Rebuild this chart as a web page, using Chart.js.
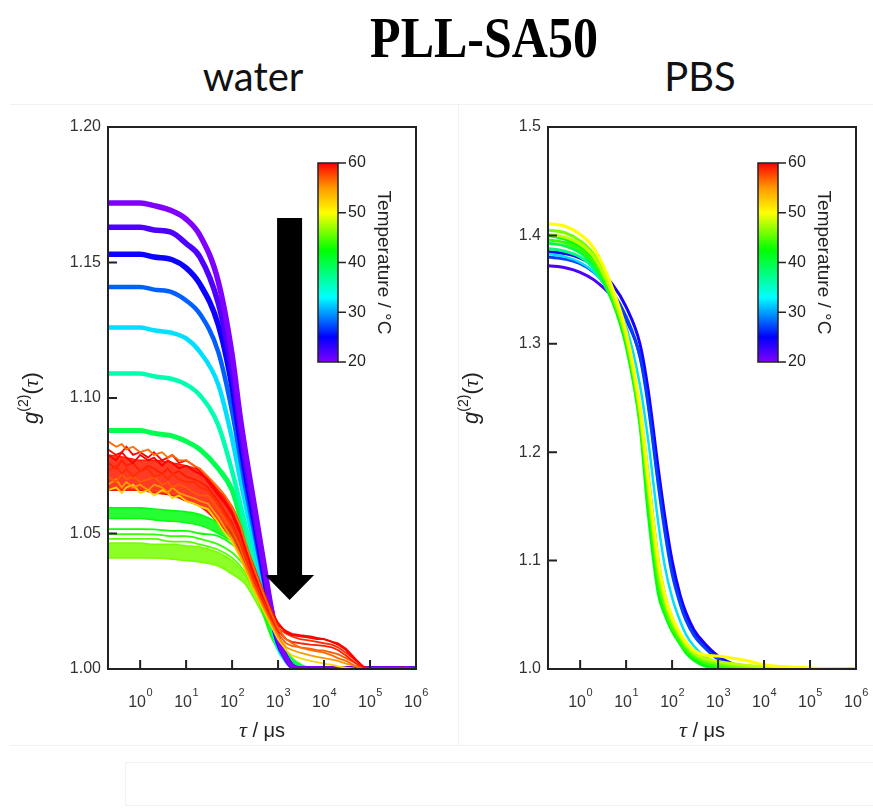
<!DOCTYPE html>
<html>
<head>
<meta charset="utf-8">
<title>PLL-SA50</title>
<script src="https://cdn.jsdelivr.net/npm/chart.js@4.4.1/dist/chart.umd.min.js"></script>
<style>
  body { margin: 0; background: #fff; }
  #page { position: relative; width: 873px; height: 809px; overflow: hidden; background: #fff; }
  .txt { position: absolute; text-align: center; white-space: nowrap; color: #000; }
  #title { left: 284px; width: 400px; top: 15px; font: bold 50px/50px "Liberation Serif", "Times New Roman", serif; transform: scaleY(1.12); transform-origin: 50% 42px; }
  .solvent { width: 200px; top: 56px; font: 40px/40px Lato, "Open Sans", sans-serif; color: #111; }
  .rule { position: absolute; background: #f1f1f1; }
  canvas { position: absolute; top: 100px; }
</style>
</head>
<body>
<div id="page">
  <div class="rule" style="left:10px;top:104px;width:863px;height:1px"></div>
  <div class="rule" style="left:10px;top:745px;width:863px;height:1px"></div>
  <div class="rule" style="left:458px;top:104px;width:1px;height:641px"></div>
  <div class="rule" style="left:125px;top:762px;width:748px;height:1px"></div>
  <div class="rule" style="left:125px;top:762px;width:1px;height:44px"></div>
  <div class="rule" style="left:125px;top:805px;width:748px;height:1px"></div>

  <div id="title" class="txt">PLL-SA50</div>
  <div class="txt solvent" style="left:153px">water</div>
  <div class="txt solvent" style="left:600px">PBS</div>

  <canvas id="waterChart" width="440" height="660" style="left:0"></canvas>
  <canvas id="pbsChart" width="433" height="660" style="left:440px"></canvas>
</div>

<script>
// ---- values (tau in µs, g2 values) ----
const xTickValues = [1, 10, 100, 1000, 1e4, 1e5, 1e6];
const tempTicks = [20, 30, 40, 50, 60];

// water panel, smooth curves
const tauWater = [0.2, 0.5, 1, 2, 5, 10, 20, 50, 100, 150, 200, 300, 500, 700, 1000, 1500, 2000, 3000, 5000, 1e4, 2e4, 5e4, 1e5, 1e6];
const water20 = [1.172, 1.172, 1.172, 1.171, 1.169, 1.166, 1.160, 1.143, 1.116, 1.093, 1.079, 1.061, 1.038, 1.023, 1.011, 1.004, 1.001, 1.000, 1.000, 1.000, 1.000, 1.000, 1.000, 1.000];
const water22 = [1.163, 1.163, 1.163, 1.162, 1.161, 1.157, 1.152, 1.135, 1.110, 1.089, 1.075, 1.058, 1.036, 1.022, 1.011, 1.004, 1.001, 1.000, 1.000, 1.000, 1.000, 1.000, 1.000, 1.000];
const water24 = [1.153, 1.153, 1.153, 1.152, 1.151, 1.148, 1.142, 1.127, 1.104, 1.084, 1.071, 1.055, 1.034, 1.021, 1.010, 1.004, 1.001, 1.000, 1.000, 1.000, 1.000, 1.000, 1.000, 1.000];
const water28 = [1.141, 1.141, 1.141, 1.140, 1.139, 1.136, 1.131, 1.117, 1.095, 1.078, 1.066, 1.051, 1.032, 1.020, 1.010, 1.004, 1.001, 1.000, 1.000, 1.000, 1.000, 1.000, 1.000, 1.000];
const water32 = [1.126, 1.126, 1.126, 1.125, 1.124, 1.122, 1.117, 1.105, 1.085, 1.070, 1.060, 1.046, 1.029, 1.018, 1.009, 1.003, 1.001, 1.000, 1.000, 1.000, 1.000, 1.000, 1.000, 1.000];
const water36 = [1.109, 1.109, 1.109, 1.108, 1.107, 1.105, 1.101, 1.090, 1.073, 1.061, 1.052, 1.040, 1.026, 1.017, 1.008, 1.003, 1.001, 1.000, 1.000, 1.000, 1.000, 1.000, 1.000, 1.000];
const water39 = [1.088, 1.088, 1.088, 1.087, 1.086, 1.084, 1.081, 1.074, 1.066, 1.056, 1.048, 1.036, 1.024, 1.017, 1.011, 1.006, 1.003, 1.001, 1.000, 1.000, 1.000, 1.000, 1.000, 1.000];
const water42Top = [1.0595, 1.0595, 1.0595, 1.059, 1.0585, 1.058, 1.057, 1.054, 1.051, 1.047, 1.043, 1.034, 1.021, 1.014, 1.009, 1.005, 1.003, 1.001, 1.000, 1.000, 1.000, 1.000, 1.000, 1.000];
const water42Bottom = [1.0555, 1.0555, 1.0555, 1.055, 1.0545, 1.054, 1.053, 1.050, 1.047, 1.044, 1.040, 1.031, 1.019, 1.012, 1.007, 1.003, 1.001, 1.000, 1.000, 1.000, 1.000, 1.000, 1.000, 1.000];
const water43 = [1.0516, 1.0516, 1.0516, 1.0515, 1.051, 1.051, 1.050, 1.049, 1.046, 1.043, 1.039, 1.031, 1.020, 1.013, 1.008, 1.004, 1.002, 1.001, 1.000, 1.000, 1.000, 1.000, 1.000, 1.000];
const water44 = [1.0498, 1.0498, 1.0498, 1.0497, 1.049, 1.049, 1.048, 1.046, 1.043, 1.040, 1.037, 1.030, 1.020, 1.013, 1.008, 1.004, 1.002, 1.001, 1.000, 1.000, 1.000, 1.000, 1.000, 1.000];
const water45 = [1.048, 1.048, 1.048, 1.048, 1.047, 1.047, 1.046, 1.044, 1.041, 1.038, 1.035, 1.029, 1.020, 1.013, 1.008, 1.004, 1.002, 1.001, 1.000, 1.000, 1.000, 1.000, 1.000, 1.000];
const water46Top = [1.0465, 1.0465, 1.0465, 1.046, 1.046, 1.0455, 1.045, 1.043, 1.040, 1.037, 1.034, 1.029, 1.021, 1.015, 1.010, 1.006, 1.004, 1.002, 1.000, 1.000, 1.000, 1.000, 1.000, 1.000];
const water46Bottom = [1.041, 1.041, 1.041, 1.041, 1.0405, 1.040, 1.0395, 1.038, 1.035, 1.033, 1.031, 1.026, 1.019, 1.013, 1.008, 1.004, 1.002, 1.001, 1.000, 1.000, 1.000, 1.000, 1.000, 1.000];

// water panel, noisy high-temperature curves
const tauRed = [0.2, 0.3, 0.4, 0.5, 0.7, 1, 1.5, 2, 3, 4, 5, 7, 10, 15, 20, 30, 50, 70, 100, 150, 200, 300, 500, 700, 1000, 1500, 2000, 3000, 5000, 7000, 1e4, 1.5e4, 2e4, 3e4, 5e4, 7e4, 1e5, 2e5, 5e5, 1e6];
const red56a = [1.084, 1.082, 1.083, 1.081, 1.082, 1.080, 1.081, 1.079, 1.080, 1.078, 1.079, 1.077, 1.077, 1.075, 1.074,
  1.071, 1.067, 1.064, 1.060, 1.053, 1.046, 1.037, 1.027, 1.021, 1.015,
  1.011, 1.0095, 1.008, 1.007, 1.0065, 1.006, 1.005, 1.004, 1.003, 1.001, 1.000, 1.000, 1.000, 1.000, 1.000];
const red60a = [1.079, 1.077, 1.080, 1.078, 1.076, 1.079, 1.077, 1.078, 1.075, 1.077, 1.076, 1.074, 1.075, 1.073, 1.072,
  1.070, 1.065, 1.062, 1.058, 1.051, 1.044, 1.036, 1.027, 1.022, 1.017,
  1.0135, 1.0125, 1.012, 1.0115, 1.011, 1.011, 1.010, 1.009, 1.007, 1.003, 1.001, 1.000, 1.0005, 1.000, 1.000];
const red60b = [1.081, 1.079, 1.080, 1.082, 1.079, 1.080, 1.078, 1.080, 1.077, 1.078, 1.079, 1.076, 1.077, 1.075, 1.073,
  1.069, 1.064, 1.061, 1.057, 1.050, 1.044, 1.035, 1.026, 1.021, 1.016,
  1.014, 1.013, 1.0125, 1.012, 1.0115, 1.011, 1.010, 1.0095, 1.0075, 1.0035, 1.001, 1.000, 1.000, 1.0005, 1.000];
const red58 = [1.073, 1.075, 1.072, 1.074, 1.071, 1.073, 1.074, 1.071, 1.072, 1.070, 1.072, 1.070, 1.069, 1.069, 1.067,
  1.066, 1.061, 1.057, 1.053, 1.047, 1.041, 1.033, 1.025, 1.020, 1.015,
  1.013, 1.012, 1.011, 1.0105, 1.010, 1.0095, 1.009, 1.008, 1.006, 1.003, 1.0005, 1.000, 1.000, 1.0005, 1.000];
const red59 = [1.076, 1.074, 1.077, 1.075, 1.076, 1.073, 1.075, 1.074, 1.072, 1.074, 1.072, 1.073, 1.071, 1.070, 1.069,
  1.067, 1.062, 1.058, 1.054, 1.047, 1.041, 1.033, 1.024, 1.019, 1.014,
  1.011, 1.010, 1.0095, 1.009, 1.0088, 1.0085, 1.008, 1.007, 1.005, 1.002, 1.000, 1.000, 1.0003, 1.000, 1.000];
const red57 = [1.071, 1.069, 1.072, 1.070, 1.071, 1.069, 1.070, 1.071, 1.068, 1.069, 1.067, 1.068, 1.067, 1.065, 1.064,
  1.064, 1.059, 1.055, 1.051, 1.045, 1.039, 1.031, 1.023, 1.018, 1.013,
  1.0095, 1.0085, 1.008, 1.0075, 1.007, 1.0068, 1.006, 1.0055, 1.004, 1.002, 1.0005, 1.000, 1.000, 1.000, 1.000];
const red55 = [1.068, 1.070, 1.067, 1.069, 1.067, 1.068, 1.066, 1.068, 1.067, 1.065, 1.067, 1.065, 1.064, 1.063, 1.062,
  1.061, 1.056, 1.052, 1.048, 1.042, 1.037, 1.030, 1.022, 1.017, 1.012,
  1.008, 1.007, 1.006, 1.005, 1.0045, 1.004, 1.0035, 1.003, 1.002, 1.001, 1.000, 1.000, 1.000, 1.000, 1.000];
const red52 = [1.066, 1.067, 1.065, 1.067, 1.068, 1.065, 1.066, 1.064, 1.066, 1.065, 1.063, 1.064, 1.062, 1.061, 1.060,
  1.059, 1.054, 1.050, 1.047, 1.041, 1.036, 1.029, 1.021, 1.016, 1.011,
  1.007, 1.005, 1.004, 1.003, 1.0025, 1.002, 1.0015, 1.001, 1.0005, 1.000, 1.000, 1.000, 1.000, 1.000, 1.000];
// envelope of the dense red bundle
const tauBand = [0.2, 0.5, 1, 2, 5, 10, 20, 50, 100, 150, 200, 300, 500, 700];
const redBandTop = [1.079, 1.078, 1.077, 1.077, 1.076, 1.075, 1.073, 1.066, 1.060, 1.053, 1.046, 1.038, 1.028, 1.022];
const redBandBottom = [1.066, 1.066, 1.066, 1.065, 1.064, 1.062, 1.060, 1.054, 1.048, 1.042, 1.036, 1.030, 1.022, 1.018];

// PBS panel
const tauPbs = [0.2, 0.5, 1, 2, 5, 10, 20, 30, 50, 70, 100, 150, 200, 300, 500, 1000, 2000, 5000, 1e4, 1e5, 1e6];
const pbs22 = [1.372, 1.370, 1.366, 1.359, 1.343, 1.322, 1.289, 1.248, 1.176, 1.132, 1.094, 1.064, 1.049, 1.034, 1.022, 1.011, 1.005, 1.001, 1.000, 1.000, 1.000];
const pbs24 = [1.385, 1.383, 1.379, 1.372, 1.355, 1.334, 1.300, 1.258, 1.185, 1.140, 1.100, 1.068, 1.052, 1.036, 1.024, 1.012, 1.005, 1.001, 1.000, 1.000, 1.000];
const pbs27 = [1.380, 1.378, 1.374, 1.366, 1.348, 1.325, 1.288, 1.244, 1.170, 1.126, 1.088, 1.060, 1.045, 1.031, 1.020, 1.009, 1.004, 1.001, 1.000, 1.000, 1.000];
const pbs32 = [1.383, 1.380, 1.375, 1.366, 1.344, 1.316, 1.262, 1.212, 1.135, 1.094, 1.066, 1.044, 1.032, 1.021, 1.012, 1.005, 1.002, 1.000, 1.000, 1.000, 1.000];
const pbs38 = [1.388, 1.385, 1.380, 1.369, 1.340, 1.304, 1.240, 1.180, 1.100, 1.068, 1.047, 1.031, 1.022, 1.013, 1.007, 1.003, 1.001, 1.000, 1.000, 1.000, 1.000];
const pbs40 = [1.393, 1.390, 1.384, 1.372, 1.340, 1.302, 1.232, 1.165, 1.085, 1.058, 1.040, 1.026, 1.018, 1.010, 1.004, 1.001, 1.000, 1.000, 1.000, 1.000, 1.000];
const pbs42 = [1.400, 1.396, 1.389, 1.376, 1.340, 1.298, 1.225, 1.145, 1.070, 1.050, 1.035, 1.023, 1.015, 1.008, 1.003, 1.001, 1.000, 1.000, 1.000, 1.000, 1.000];
const pbs44 = [1.396, 1.393, 1.387, 1.375, 1.342, 1.303, 1.230, 1.160, 1.080, 1.055, 1.038, 1.025, 1.018, 1.011, 1.006, 1.003, 1.002, 1.001, 1.000, 1.000, 1.000];
const pbs46 = [1.405, 1.402, 1.395, 1.382, 1.347, 1.306, 1.236, 1.168, 1.088, 1.060, 1.042, 1.029, 1.021, 1.013, 1.008, 1.005, 1.003, 1.002, 1.001, 1.000, 1.000];
const pbs48 = [1.401, 1.398, 1.392, 1.380, 1.346, 1.307, 1.238, 1.172, 1.094, 1.064, 1.045, 1.031, 1.023, 1.015, 1.010, 1.007, 1.005, 1.003, 1.002, 1.000, 1.000];
const pbs50 = [1.411, 1.408, 1.401, 1.388, 1.352, 1.311, 1.242, 1.178, 1.100, 1.068, 1.048, 1.033, 1.025, 1.017, 1.013, 1.012, 1.010, 1.007, 1.004, 1.001, 1.000];

// arrow in the water panel (data coordinates)
const arrowTau = 1780;
const arrowTop = 1.1664;
const arrowHeadBase = 1.0347;
const arrowTip = 1.0255;

// ---- colour map (temperature 20..60 °C) ----
const tempStops = [20, 25, 33, 42.5, 50, 55, 60];
const tempStopColors = ['#8000ff', '#0000ff', '#00ffff', '#00ff00', '#ffff00', '#ff9900', '#ff0000'];

function hexToRgb(h) {
  return [parseInt(h.slice(1, 3), 16), parseInt(h.slice(3, 5), 16), parseInt(h.slice(5, 7), 16)];
}
function tempColor(t, alpha) {
  let rgb = hexToRgb(tempStopColors[tempStopColors.length - 1]);
  for (let i = 0; i < tempStops.length - 1; i++) {
    if (t <= tempStops[i + 1]) {
      const f = (t - tempStops[i]) / (tempStops[i + 1] - tempStops[i]);
      const a = hexToRgb(tempStopColors[i]), b = hexToRgb(tempStopColors[i + 1]);
      rgb = a.map((c, k) => Math.round(c + (b[k] - c) * f));
      break;
    }
  }
  return `rgba(${rgb.join(',')},${alpha === undefined ? 1 : alpha})`;
}

function curve(label, tau, vals, temp, width, extra) {
  return Object.assign({
    label: label,
    data: tau.map((t, i) => ({ x: t, y: vals[i] })),
    borderColor: tempColor(temp),
    borderWidth: width,
    pointRadius: 0,
    fill: false,
    cubicInterpolationMode: 'monotone'
  }, extra || {});
}
function noisy(label, vals, temp) {
  return curve(label, tauRed, vals, temp, 1.8, { cubicInterpolationMode: 'default', tension: 0 });
}
function band(label, tau, top, bottom, temp, fillColor) {
  return [
    curve(label + ' top', tau, top, temp, 1.5, { fill: '+1', backgroundColor: fillColor }),
    curve(label + ' bottom', tau, bottom, temp, 1.5)
  ];
}

const SANS = '"Liberation Sans", Arial, Helvetica, sans-serif';
const SERIF = '"Liberation Serif", "Times New Roman", serif';

function drawRich(ctx, parts, baseY) {
  let total = 0;
  parts.forEach(p => { ctx.font = p.font; p.w = ctx.measureText(p.text).width; total += p.w; });
  let cx = -total / 2;
  parts.forEach(p => { ctx.font = p.font; ctx.fillText(p.text, cx, baseY + (p.dy || 0)); cx += p.w; });
}

function decor(withArrow) {
  return {
    id: 'decor',
    afterDatasetsDraw(chart) {
      const { ctx, chartArea: a, scales: { x, y } } = chart;
      ctx.save();
      if (withArrow) {
        const ax = x.getPixelForValue(arrowTau);
        const yTop = y.getPixelForValue(arrowTop);
        const yHead = y.getPixelForValue(arrowHeadBase);
        const yTip = y.getPixelForValue(arrowTip);
        ctx.fillStyle = '#000';
        ctx.beginPath();
        ctx.moveTo(ax - 12.5, yTop);
        ctx.lineTo(ax + 12.5, yTop);
        ctx.lineTo(ax + 12.5, yHead);
        ctx.lineTo(ax + 24.5, yHead);
        ctx.lineTo(ax, yTip);
        ctx.lineTo(ax - 24.5, yHead);
        ctx.lineTo(ax - 12.5, yHead);
        ctx.closePath();
        ctx.fill();
      }

      // frame + inward ticks
      ctx.strokeStyle = '#222';
      ctx.lineWidth = 2;
      ctx.strokeRect(a.left, a.top, a.right - a.left, a.bottom - a.top);
      ctx.beginPath();
      xTickValues.forEach(v => {
        if (v < x.max) {
          const px = x.getPixelForValue(v);
          ctx.moveTo(px, a.bottom);
          ctx.lineTo(px, a.bottom - 9);
        }
      });
      y.ticks.forEach(t => {
        if (t.value > y.min + 1e-9 && t.value < y.max - 1e-9) {
          const py = y.getPixelForValue(t.value);
          ctx.moveTo(a.left, py);
          ctx.lineTo(a.left + 9, py);
        }
      });
      ctx.stroke();

      // colour bar
      const cbX = a.left + 210, cbY = a.top + 36, cbW = 20, cbH = 199;
      const grad = ctx.createLinearGradient(0, cbY + cbH, 0, cbY);
      tempStops.forEach((t, i) => grad.addColorStop((t - 20) / 40, tempStopColors[i]));
      ctx.fillStyle = grad;
      ctx.fillRect(cbX, cbY, cbW, cbH);
      ctx.lineWidth = 1.5;
      ctx.strokeRect(cbX, cbY, cbW, cbH);
      ctx.beginPath();
      tempTicks.forEach(t => {
        const py = cbY + cbH - (t - 20) / 40 * cbH;
        ctx.moveTo(cbX + cbW, py);
        ctx.lineTo(cbX + cbW + 8, py);
      });
      ctx.stroke();
      ctx.fillStyle = '#222';
      ctx.font = '16px ' + SANS;
      ctx.textAlign = 'left';
      ctx.textBaseline = 'middle';
      tempTicks.forEach(t => {
        const py = cbY + cbH - (t - 20) / 40 * cbH;
        ctx.fillText(String(t), cbX + cbW + 10, py);
      });
      ctx.save();
      ctx.translate(cbX + cbW + 45, cbY + cbH / 2);
      ctx.rotate(Math.PI / 2);
      ctx.textAlign = 'center';
      ctx.font = '19px ' + SANS;
      ctx.fillText('Temperature / \u00b0C', 0, 0);
      ctx.restore();
      ctx.restore();
    },
    afterDraw(chart) {
      const { ctx, chartArea: a, scales: { x } } = chart;
      ctx.save();
      ctx.fillStyle = '#333';
      ctx.textAlign = 'left';
      ctx.textBaseline = 'alphabetic';
      // x tick labels as 10 with a raised exponent
      xTickValues.forEach(v => {
        const px = x.getPixelForValue(v);
        const exp = String(Math.round(Math.log10(v)));
        ctx.font = '16px ' + SANS;
        const wBase = ctx.measureText('10').width;
        ctx.font = '11px ' + SANS;
        const wExp = ctx.measureText(exp).width;
        const start = px - (wBase + wExp) / 2;
        ctx.font = '16px ' + SANS;
        ctx.fillText('10', start, a.bottom + 38);
        ctx.font = '11px ' + SANS;
        ctx.fillText(exp, start + wBase + 0.5, a.bottom + 27);
      });
      ctx.fillStyle = '#222';
      // y title g(2)(tau)
      ctx.save();
      ctx.translate(31, (a.top + a.bottom) / 2);
      ctx.rotate(-Math.PI / 2);
      drawRich(ctx, [
        { text: 'g', font: 'italic 22px ' + SANS },
        { text: '(2)', font: '14px ' + SANS, dy: -10 },
        { text: '(', font: '22px ' + SANS },
        { text: '\u03c4', font: 'italic 22px ' + SERIF },
        { text: ')', font: '22px ' + SANS }
      ], 7);
      ctx.restore();
      // x title tau / µs
      ctx.save();
      ctx.translate((a.left + a.right) / 2, a.bottom + 68);
      drawRich(ctx, [
        { text: '\u03c4', font: 'italic 22px ' + SERIF },
        { text: ' / \u03bcs', font: '20px ' + SANS }
      ], 0);
      ctx.restore();
      ctx.restore();
    }
  };
}

function makeChart(id, datasets, yMin, yMax, yStep, digits, rightPad, withArrow) {
  return new Chart(document.getElementById(id), {
    type: 'line',
    data: { datasets: datasets },
    options: {
      responsive: false,
      animation: false,
      events: [],
      layout: { padding: { top: 27, right: rightPad, bottom: 11, left: 0 } },
      plugins: { legend: { display: false }, tooltip: { enabled: false } },
      scales: {
        x: {
          type: 'logarithmic',
          min: 0.2,
          max: 1e6,
          grid: { display: false, drawTicks: false },
          border: { display: false },
          afterBuildTicks: s => { s.ticks = xTickValues.map(v => ({ value: v })); },
          afterFit: s => { s.height = 80; },
          ticks: { display: false }
        },
        y: {
          min: yMin,
          max: yMax,
          grid: { display: false, drawTicks: false },
          border: { display: false },
          afterFit: s => { s.width = 108; },
          ticks: {
            stepSize: yStep, padding: 7, color: '#333',
            font: { size: 16, family: SANS },
            callback: v => Number(v).toFixed(digits)
          }
        }
      }
    },
    plugins: [decor(withArrow)]
  });
}

// water: first dataset is drawn on top
const waterSets = [
  noisy('56.5 °C', red56a, 56.5),
  noisy('60 °C a', red60a, 60),
  noisy('60 °C b', red60b, 60),
  noisy('58.5 °C', red58, 58.5),
  noisy('59 °C', red59, 59),
  noisy('57 °C', red57, 57),
  noisy('55 °C', red55, 55),
  noisy('52 °C', red52, 52),
  ...band('red bundle', tauBand, redBandTop, redBandBottom, 59, 'rgba(255,25,0,0.85)'),
  curve('20 °C', tauWater, water20, 20, 5.5),
  curve('22 °C', tauWater, water22, 22, 5.5),
  curve('24.5 °C', tauWater, water24, 24.5, 5.5),
  curve('28 °C', tauWater, water28, 28, 4.5),
  curve('32 °C', tauWater, water32, 32, 4.5),
  curve('36 °C', tauWater, water36, 36, 4.5),
  curve('39.5 °C', tauWater, water39, 39.5, 5),
  curve('43 °C', tauWater, water43, 43, 1.8),
  curve('44 °C', tauWater, water44, 44, 1.8),
  curve('45 °C', tauWater, water45, 45, 1.8),
  ...band('42 °C', tauWater, water42Top, water42Bottom, 42, tempColor(42, 0.85)),
  ...band('46 °C', tauWater, water46Top, water46Bottom, 46, tempColor(46, 0.85))
];

const pbsSets = [
  curve('50 °C', tauPbs, pbs50, 50, 3),
  curve('48 °C', tauPbs, pbs48, 48, 3),
  curve('46 °C', tauPbs, pbs46, 46, 3),
  curve('44 °C', tauPbs, pbs44, 44, 3),
  curve('42 °C', tauPbs, pbs42, 42, 3),
  curve('40 °C', tauPbs, pbs40, 40, 3),
  curve('38 °C', tauPbs, pbs38, 38, 3),
  curve('32 °C', tauPbs, pbs32, 32, 2.5),
  curve('27 °C', tauPbs, pbs27, 27, 3),
  curve('24 °C', tauPbs, pbs24, 24, 3),
  curve('22 °C', tauPbs, pbs22, 22, 3)
];

makeChart('waterChart', waterSets, 1.0, 1.2, 0.05, 2, 24, true);
makeChart('pbsChart', pbsSets, 1.0, 1.5, 0.1, 1, 17, false);
</script>
</body>
</html>
